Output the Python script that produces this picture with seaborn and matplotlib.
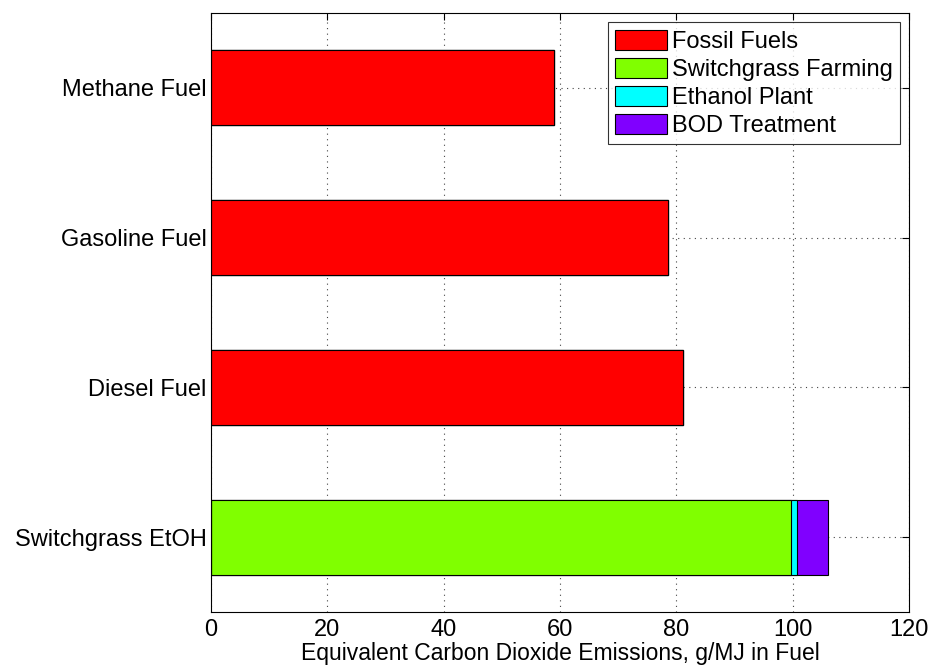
import seaborn as sns
import matplotlib.pyplot as plt
import pandas as pd
from matplotlib.patches import Patch

fuels = ["Methane Fuel", "Gasoline Fuel", "Diesel Fuel", "Switchgrass EtOH"]
fossil_fuels = [58.9, 78.6, 81.1, 0.0]
switchgrass_farming = [0.0, 0.0, 0.0, 99.7]
ethanol_plant = [0.0, 0.0, 0.0, 1.1]
bod_treatment = [0.0, 0.0, 0.0, 5.3]

layer_names = ["Fossil Fuels", "Switchgrass Farming", "Ethanol Plant", "BOD Treatment"]
layer_colors = ["#FF0000", "#80FF00", "#00FFFF", "#8000FF"]

df = pd.DataFrame({
    "fuel": fuels,
    "Fossil Fuels": fossil_fuels,
    "Switchgrass Farming": switchgrass_farming,
    "Ethanol Plant": ethanol_plant,
    "BOD Treatment": bod_treatment,
})
# cumulative totals so layers can be overlaid (seaborn has no stacked bars)
cum = df[layer_names].cumsum(axis=1)
cum["fuel"] = df["fuel"]

sns.set_style("white")
plt.rcParams["font.family"] = ["Liberation Sans", "DejaVu Sans"]
plt.rcParams["text.color"] = "black"
plt.rcParams["axes.labelcolor"] = "black"

fig = plt.figure(figsize=(9.33, 6.70), dpi=100)
ax = fig.add_axes([0.2261, 0.0866, 0.7482, 0.894])

order = fuels[::-1]
for name, color in reversed(list(zip(layer_names, layer_colors))):
    sns.barplot(data=cum, y="fuel", x=name, order=order, orient="h",
                color=color, saturation=1.0, width=0.5,
                edgecolor="black", linewidth=0.8, ax=ax)

ax.set_xlim(0, 120)
ax.set_ylim(-0.5, 3.5)
ax.set_xticks(range(0, 121, 20))
ax.set_xlabel("Equivalent Carbon Dioxide Emissions, g/MJ in Fuel", fontsize=16.5, labelpad=1)
ax.set_ylabel("")
ax.tick_params(direction="in", top=True, right=True, length=5, width=0.8,
               labelsize=17, colors="black", pad=5)
ax.tick_params(axis="y", pad=3)
ax.set_axisbelow(True)
ax.grid(True, linestyle=(0, (1, 4)), linewidth=0.8, color="#444444")
for s in ax.spines.values():
    s.set_visible(True)
    s.set_color("black")
    s.set_linewidth(0.8)

handles = [Patch(facecolor=c, edgecolor="black", linewidth=0.8) for c in layer_colors]
leg = ax.legend(handles, layer_names, loc="upper right", fontsize=17,
                frameon=True, fancybox=False, edgecolor="black",
                handlelength=2.2, handleheight=0.95, handletextpad=0.2,
                labelspacing=0.2, borderpad=0.3, borderaxespad=0.4)
leg.get_frame().set_linewidth(0.8)

fig.savefig("out.png", dpi=100)
